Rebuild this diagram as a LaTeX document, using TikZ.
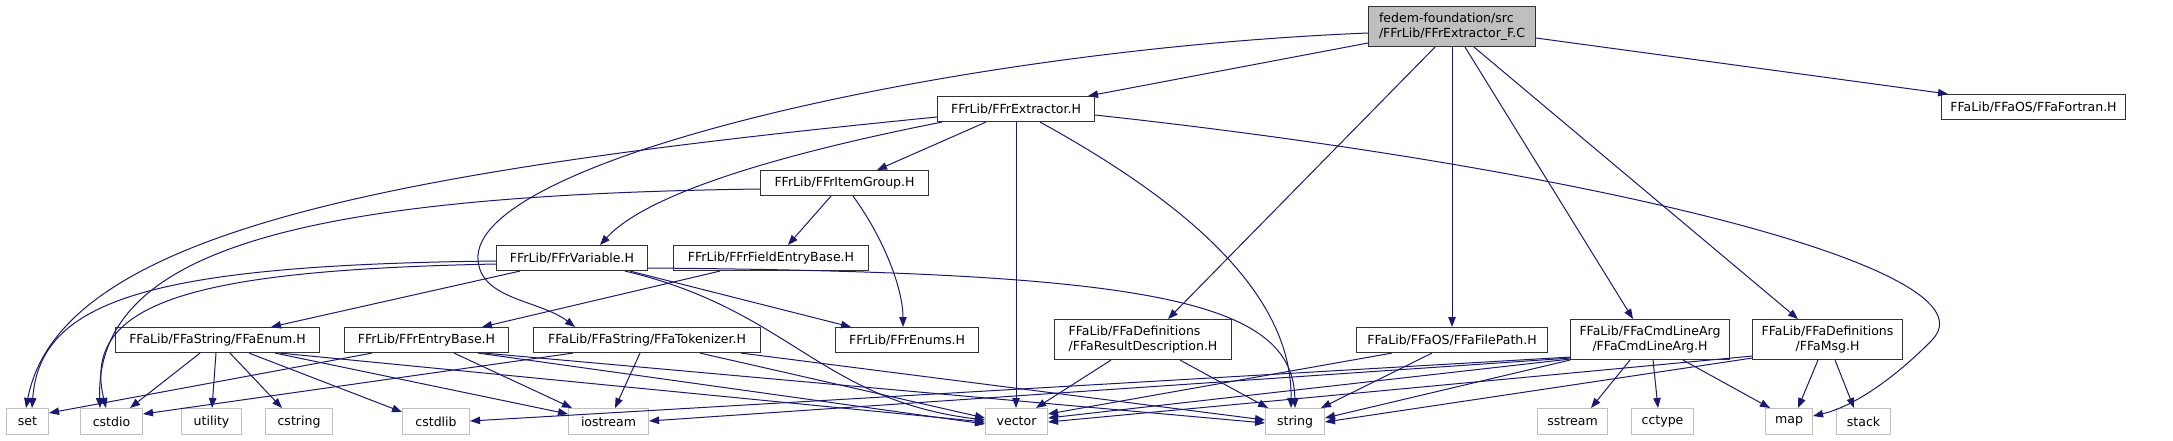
\documentclass[tikz,border=0pt]{standalone}
\usepackage{fontspec}
\setmainfont{DejaVu Sans}
\usepackage{tikz}
\usetikzlibrary{arrows.meta,calc}
\definecolor{EdgeNavy}{HTML}{191970}
\definecolor{LeafGray}{HTML}{BFBFBF}
\definecolor{MainFill}{HTML}{BFBFBF}

\begin{document}
\begin{tikzpicture}[x=0.75pt,y=-0.75pt,
    hdr/.style={draw=black!80,line width=0.8pt,fill=white,anchor=north west,inner sep=0pt,
      minimum width=#1*0.75pt,minimum height=18.75pt,align=center,font=\fontsize{9.4}{11.5}\selectfont},
    tall/.style={minimum height=30pt},
    leaf/.style={draw=LeafGray,line width=0.8pt,fill=white,anchor=north west,inner sep=0pt,
      minimum width=#1*0.75pt,minimum height=19.5pt,font=\fontsize{9.4}{11.5}\selectfont},
    dep/.style={draw=EdgeNavy,line width=0.75pt,-{Triangle[length=7.5pt,width=5.6pt]}}]
  \useasboundingbox (0,0) rectangle (2173,440);
  % headers
  \node[hdr=167,tall,fill=MainFill,align=left] (main) at (1368,6) {fedem-foundation/src\\/FFrLib/FFrExtractor\_F.C};
  \node[hdr=157] (extr) at (937,96) {FFrLib/FFrExtractor.H};
  \node[hdr=184] (fortran) at (1941,94) {FFaLib/FFaOS/FFaFortran.H};
  \node[hdr=168] (itemgrp) at (760,170) {FFrLib/FFrItemGroup.H};
  \node[hdr=151] (variable) at (496,245) {FFrLib/FFrVariable.H};
  \node[hdr=195] (fieldentry) at (673,245) {FFrLib/FFrFieldEntryBase.H};
  \node[hdr=204] (enum) at (115,327) {FFaLib/FFaString/FFaEnum.H};
  \node[hdr=164] (entrybase) at (344,327) {FFrLib/FFrEntryBase.H};
  \node[hdr=227] (tok) at (533,327) {FFaLib/FFaString/FFaTokenizer.H};
  \node[hdr=143] (enums) at (835,327) {FFrLib/FFrEnums.H};
  \node[hdr=177,tall,align=left] (resdesc) at (1054,319) {FFaLib/FFaDefinitions\\/FFaResultDescription.H};
  \node[hdr=191] (filepath) at (1356,327) {FFaLib/FFaOS/FFaFilePath.H};
  \node[hdr=159,tall] (cmdline) at (1570,319) {FFaLib/FFaCmdLineArg\\/FFaCmdLineArg.H};
  \node[hdr=150,tall] (msg) at (1752,319) {FFaLib/FFaDefinitions\\/FFaMsg.H};
  % system headers
  \node[leaf=42] (set) at (6,408) {set};
  \node[leaf=62] (cstdio) at (80,408) {cstdio};
  \node[leaf=60] (utility) at (181,408) {utility};
  \node[leaf=67] (cstring) at (265,408) {cstring};
  \node[leaf=67] (cstdlib) at (402,408) {cstdlib};
  \node[leaf=80] (iostream) at (568,408) {iostream};
  \node[leaf=62] (vector) at (985,408) {vector};
  \node[leaf=59] (string) at (1265,408) {string};
  \node[leaf=70] (sstream) at (1537,408) {sstream};
  \node[leaf=62] (cctype) at (1631,408) {cctype};
  \node[leaf=47] (map) at (1765,408) {map};
  \node[leaf=54] (stack) at (1836,408) {stack};
  % main file
  \draw[dep] ($(main.north west)+(0,37)$) -- ($(extr.north west)+(151,0)$);
  \draw[dep] ($(main.north east)+(0,32)$) -- ($(fortran.north west)+(7,0)$);
  \draw[dep] ($(main.north west)+(0,27)$) .. controls (950,50) and (470,160) .. (478,260)
    .. controls (481,300) and (540,300) .. ($(tok.north west)+(42,0)$);
  \draw[dep] ($(main.south west)+(67,0)$) -- ($(resdesc.north west)+(114,0)$);
  \draw[dep] ($(main.south west)+(84,0)$) -- ($(filepath.north west)+(96,0)$);
  \draw[dep] ($(main.south west)+(97,0)$) -- ($(cmdline.north west)+(63,0)$);
  \draw[dep] ($(main.south west)+(106,0)$) -- ($(msg.north west)+(46,0)$);
  % FFrExtractor.H
  \draw[dep] ($(extr.south west)+(49,0)$) -- ($(itemgrp.north west)+(117,0)$);
  \draw[dep] ($(extr.south west)+(79,0)$) -- ($(vector.north west)+(31,0)$);
  \draw[dep] ($(extr.south west)+(103,0)$) .. controls (1200,210) and (1292,300) .. ($(string.north west)+(26,0)$);
  \draw[dep] ($(extr.north east)+(0,19)$) .. controls (1600,170) and (2000,270) .. (1932,340)
    .. controls (1905,368) and (1860,405) .. ($(map.north east)+(0,8)$);
  \draw[dep] ($(extr.north west)+(0,21)$) .. controls (400,170) and (60,230) .. ($(set.north west)+(20,0)$);
  \draw[dep] ($(extr.south west)+(5,0)$) .. controls (800,150) and (650,190) .. ($(variable.north west)+(104,0)$);
  % FFrItemGroup.H
  \draw[dep] ($(itemgrp.south west)+(71,0)$) -- ($(fieldentry.north west)+(115,0)$);
  \draw[dep] ($(itemgrp.south west)+(93,0)$) .. controls (885,240) and (903,290) .. ($(enums.north west)+(68,0)$);
  \draw[dep] ($(itemgrp.north west)+(0,19)$) .. controls (300,195) and (95,250) .. ($(cstdio.north west)+(20,0)$);
  \draw[dep] ($(fieldentry.south west)+(47,0)$) -- ($(entrybase.north west)+(138,0)$);
  % FFrVariable.H
  \draw[dep] ($(variable.south west)+(24,0)$) -- ($(enum.north west)+(156,0)$);
  \draw[dep] ($(variable.south west)+(134,0)$) -- ($(enums.north west)+(16,0)$);
  \draw[dep] ($(variable.south west)+(129,0)$) .. controls (790,310) and (820,400) .. ($(vector.north west)+(0,12)$);
  \draw[dep] ($(variable.north east)+(0,23)$) .. controls (1150,272) and (1293,300) .. ($(string.north west)+(30,0)$);
  \draw[dep] ($(variable.north west)+(0,16)$) .. controls (150,265) and (40,300) .. ($(set.north west)+(26,0)$);
  \draw[dep] ($(variable.north west)+(0,19)$) .. controls (200,270) and (80,300) .. ($(cstdio.north west)+(26,0)$);
  % FFaEnum.H
  \draw[dep] ($(enum.south west)+(85,0)$) -- ($(cstdio.north west)+(50,0)$);
  \draw[dep] ($(enum.south west)+(101,0)$) -- ($(utility.north west)+(31,0)$);
  \draw[dep] ($(enum.south west)+(115,0)$) -- ($(cstring.north west)+(17,0)$);
  \draw[dep] ($(enum.south west)+(134,0)$) -- ($(cstdlib.north west)+(0,4)$);
  \draw[dep] ($(enum.south west)+(160,0)$) -- ($(iostream.north west)+(0,6)$);
  \draw[dep] ($(enum.south west)+(165,0)$) -- ($(vector.north west)+(0,14)$);
  % FFrEntryBase.H
  \draw[dep] ($(entrybase.south west)+(28,0)$) -- ($(set.north east)+(0,5)$);
  \draw[dep] ($(entrybase.south west)+(110,0)$) -- ($(iostream.north west)+(4,0)$);
  \draw[dep] ($(entrybase.south west)+(134,0)$) -- ($(vector.north west)+(0,16)$);
  \draw[dep] ($(entrybase.south west)+(140,0)$) -- ($(string.north west)+(0,15)$);
  % FFaTokenizer.H
  \draw[dep] ($(tok.south west)+(40,0)$) -- ($(cstdio.north east)+(0,6)$);
  \draw[dep] ($(tok.south west)+(107,0)$) -- ($(iostream.north west)+(47,0)$);
  \draw[dep] ($(tok.south west)+(167,0)$) -- ($(vector.north west)+(0,10)$);
  \draw[dep] ($(tok.south west)+(208,0)$) -- ($(string.north west)+(0,12)$);
  % FFaResultDescription.H, FFaFilePath.H
  \draw[dep] ($(resdesc.south west)+(57,0)$) -- ($(vector.north west)+(51,0)$);
  \draw[dep] ($(resdesc.south west)+(126,0)$) -- ($(string.north west)+(3,0)$);
  \draw[dep] ($(filepath.south west)+(36,0)$) -- ($(vector.north east)+(0,6)$);
  \draw[dep] ($(filepath.south west)+(76,0)$) -- ($(string.north west)+(56,0)$);
  % FFaCmdLineArg.H
  \draw[dep] ($(cmdline.south west)+(0,-3)$) -- ($(cstdlib.north east)+(0,13)$);
  \draw[dep] ($(cmdline.south west)+(0,-2)$) -- ($(iostream.north east)+(0,13)$);
  \draw[dep] ($(cmdline.south west)+(0,-1)$) -- ($(vector.north east)+(0,10)$);
  \draw[dep] (cmdline.south west) -- ($(string.north east)+(0,10)$);
  \draw[dep] ($(cmdline.south west)+(60,0)$) -- ($(sstream.north west)+(54,0)$);
  \draw[dep] ($(cmdline.south west)+(83,0)$) -- ($(cctype.north west)+(27,0)$);
  \draw[dep] ($(cmdline.south west)+(113,0)$) -- ($(map.north west)+(5,0)$);
  % FFaMsg.H
  \draw[dep] ($(msg.south west)+(66,0)$) -- ($(map.north west)+(33,0)$);
  \draw[dep] ($(msg.south west)+(83,0)$) -- ($(stack.north west)+(18,0)$);
  \draw[dep] ($(msg.south west)+(0,-4)$) -- ($(vector.north east)+(0,14)$);
  \draw[dep] ($(msg.south west)+(0,-2)$) -- ($(string.north east)+(0,14)$);
\end{tikzpicture}
\end{document}
